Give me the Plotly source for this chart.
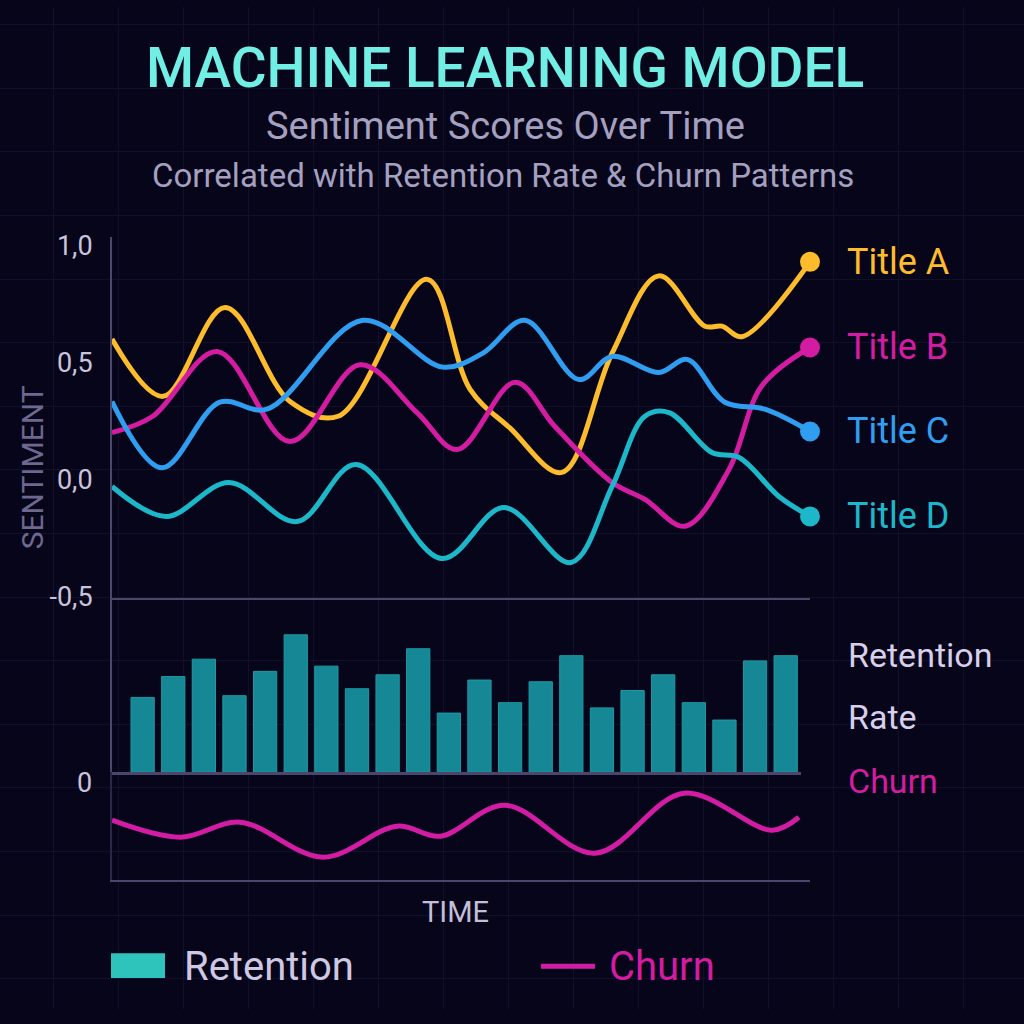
import plotly.graph_objects as go

# ---------------- data ----------------
# sentiment series (time in weeks 0..20, sentiment score)
t_a = [0, 1.46, 3.24, 5.10, 6.48, 9.03, 10.26, 11.40, 12.89, 14.33, 15.67, 16.99, 17.48, 18.05, 20]
s_a = [0.60, 0.355, 0.735, 0.333, 0.27, 0.855, 0.385, 0.22, 0.03, 0.54, 0.87, 0.655, 0.655, 0.61, 0.93]

t_b = [0, 1.17, 3.01, 5.10, 7.11, 8.74, 9.89, 11.55, 12.69, 14.33, 15.27, 16.42, 17.68, 18.62, 20]
s_b = [0.20, 0.27, 0.547, 0.162, 0.49, 0.286, 0.128, 0.415, 0.226, -0.013, -0.085, -0.20, 0.043, 0.40, 0.564]

t_c = [0, 1.43, 3.09, 4.44, 7.19, 9.48, 10.63, 11.83, 13.38, 14.33, 15.67, 16.48, 17.56, 18.71, 20]
s_c = [0.333, 0.05, 0.33, 0.30, 0.68, 0.48, 0.54, 0.68, 0.427, 0.526, 0.457, 0.513, 0.33, 0.30, 0.205]

t_d = [0, 1.55, 3.35, 5.30, 6.99, 9.45, 11.23, 13.15, 14.33, 15.27, 15.96, 17.19, 17.97, 19.11, 20]
s_d = [-0.03, -0.158, -0.013, -0.18, 0.064, -0.338, -0.12, -0.355, -0.03, 0.27, 0.286, 0.115, 0.094, -0.073, -0.158]

series_names = ["Title A", "Title B", "Title C", "Title D"]
series_colors = ["#fdbc2c", "#d41ca2", "#2f9ef0", "#1cb8ca"]

# retention rate bars (%)
bar_periods = list(range(22))
retention = [43, 55, 65, 44, 58, 79, 61, 48, 56, 71, 34, 53, 40, 52, 67, 37, 47, 56, 40, 30, 64, 67]

# churn line
t_churn = [0, 1.95, 3.67, 6.05, 8.17, 9.40, 11.26, 13.84, 16.39, 18.91, 19.68]
churn = [5.56, 3.98, 5.37, 2.13, 5.0, 4.07, 6.94, 2.5, 8.06, 4.63, 5.83]

sent_ticks = [-0.5, 0.0, 0.5, 1.0]
sent_tick_text = ["-0,5", "0,0", "0,5", "1,0"]

# ---------------- styling ----------------
BG = "#07051a"
AXIS = "#4a466c"
FONT = "Roboto"
W = H = 1024


def X(px):
    return px / W


def Y(py):
    # vertical placement helper (pixel row -> paper fraction)
    return 1 - ((py - 6.4) / 0.979) / H


fig = go.Figure()

# background grid subplot (x/y)
fig.add_trace(go.Scatter(x=[None], y=[None], xaxis="x", yaxis="y",
                         showlegend=False, hoverinfo="skip"))

# sentiment lines
for t, s, name, col in zip([t_a, t_b, t_c, t_d], [s_a, s_b, s_c, s_d],
                           series_names, series_colors):
    fig.add_trace(go.Scatter(
        x=t, y=s, mode="lines", name=name, xaxis="x2", yaxis="y2",
        line=dict(color=col, width=5, shape="spline", smoothing=1.0),
        showlegend=False, hoverinfo="skip"))
    fig.add_trace(go.Scatter(
        x=[t[-1]], y=[s[-1]], mode="markers", xaxis="x2", yaxis="y2",
        marker=dict(color=col, size=20), cliponaxis=False,
        showlegend=False, hoverinfo="skip"))
    fig.add_annotation(x=t[-1], y=s[-1], xref="x2", yref="y2", text=name,
                       showarrow=False, xanchor="left", yanchor="middle",
                       xshift=35, font=dict(family=FONT, size=36, color=col))

# retention bars
fig.add_trace(go.Bar(
    x=bar_periods, y=retention, xaxis="x3", yaxis="y3", name="Retention",
    marker=dict(color="#168794", line=dict(color="#1c9ba6", width=1)),
    width=0.76, showlegend=False, hoverinfo="skip"))

# churn line
fig.add_trace(go.Scatter(
    x=t_churn, y=churn, mode="lines", xaxis="x4", yaxis="y4", name="Churn",
    line=dict(color="#d21ca3", width=5, shape="spline", smoothing=1.0),
    showlegend=False, hoverinfo="skip"))

hidden = dict(showgrid=False, zeroline=False, showticklabels=False, ticks="")

fig.update_layout(
    width=W, height=H,
    paper_bgcolor=BG, plot_bgcolor="rgba(0,0,0,0)",
    margin=dict(l=0, r=0, t=0, b=0),
    showlegend=False,
    font=dict(family=FONT),
    xaxis=dict(domain=[0, 1], range=[0, 1024], showgrid=True, gridcolor="#110f2a",
               gridwidth=1, tick0=53, dtick=65, zeroline=False,
               showticklabels=False, ticks="", fixedrange=True),
    yaxis=dict(domain=[0, 1], range=[1024, 0], showgrid=True, gridcolor="#110f2a",
               gridwidth=1, tick0=18, dtick=65, zeroline=False,
               showticklabels=False, ticks="", fixedrange=True),
    xaxis2=dict(domain=[X(112), X(810)], range=[0, 20], anchor="y2",
                showline=True, linecolor=AXIS, linewidth=2, **hidden),
    yaxis2=dict(domain=[Y(598), Y(237)], range=[-0.508, 1.034], anchor="x2",
                showline=True, linecolor=AXIS, linewidth=2, showgrid=False,
                zeroline=False, tickvals=sent_ticks, ticktext=sent_tick_text,
                ticks="", ticklabelstandoff=12,
                tickfont=dict(family=FONT, size=27, color="#c9c3dc")),
    xaxis3=dict(domain=[X(112), X(801)], range=[-1.0, 21.5], anchor="y3",
                showline=True, linecolor=AXIS, linewidth=3, **hidden),
    yaxis3=dict(domain=[Y(772), Y(598)], range=[0, 100], anchor="x3",
                showline=True, linecolor=AXIS, linewidth=2, **hidden),
    xaxis4=dict(domain=[X(112), X(810)], range=[0, 20], anchor="y4",
                showline=True, linecolor=AXIS, linewidth=2, **hidden),
    yaxis4=dict(domain=[Y(880), Y(772)], range=[0, 10], anchor="x4",
                showline=True, linecolor="#2a2747", linewidth=2, **hidden),
)


def label(px, py, text, size, color, xanchor="center", angle=0, weight=None):
    f = dict(family=FONT, size=size, color=color)
    if weight:
        f["weight"] = weight
    fig.add_annotation(x=X(px), y=Y(py), xref="paper", yref="paper",
                       text=text, showarrow=False, xanchor=xanchor,
                       yanchor="middle", textangle=angle, font=f)


# titles
label(505, 67, "MACHINE LEARNING MODEL", 55, "#72efe4", weight=500)
label(505, 125, "Sentiment Scores Over Time", 38, "#a6a0c0")
label(503, 175, "Correlated with Retention Rate &amp; Churn Patterns", 33, "#a6a0c0")

# axis titles
label(32, 467, "SENTIMENT", 30, "#6d6890", angle=-90)
label(455, 912, "TIME", 29, "#c4bfd8")
label(94, 783, "0", 27, "#c9c3dc", xanchor="right")

# right-hand labels for lower panels
for txt, py, col in [("Retention", 655, "#d8d0ea"), ("Rate", 717, "#d8d0ea"),
                     ("Churn", 781, "#d41ca2")]:
    label(846, py, txt, 34, col, xanchor="left")

# bottom legend
fig.add_shape(type="rect", xref="paper", yref="paper",
              x0=X(111), x1=X(165), y0=Y(978), y1=Y(953),
              fillcolor="#2ec4bb", line=dict(width=0))
label(182, 966, "Retention", 40, "#cfc8e3", xanchor="left")
fig.add_shape(type="line", xref="paper", yref="paper",
              x0=X(541), x1=X(595), y0=Y(966), y1=Y(966),
              line=dict(color="#d21ca3", width=5))
label(607, 966, "Churn", 40, "#d41ca2", xanchor="left")

fig.write_html("out.html",
               config={"displayModeBar": False},
               post_script="document.body.style.margin='0';"
                           "document.body.style.background='#07051a';")
